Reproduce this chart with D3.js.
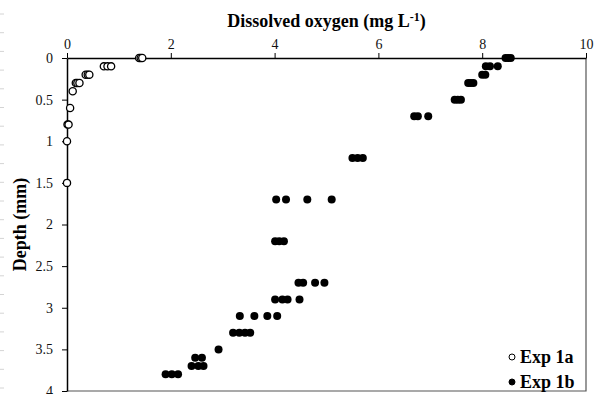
<!DOCTYPE html>
<html>
<head>
<meta charset="utf-8">
<script src="https://cdn.jsdelivr.net/npm/d3@7"></script>
<style>
  body { margin: 0; background: #fff; }
  svg { display: block; }
</style>
</head>
<body>
<script>
const width = 597, height = 394;
const margin = ({top: 58, right: 11, bottom: 3, left: 67});
const serif = '"Liberation Serif"';

// Exp 1a (open circles): depth in mm, dissolved oxygen in mg/L
const depth_1a  = [0, 0, 0, 0.1, 0.1, 0.1, 0.2, 0.2, 0.2, 0.3, 0.3, 0.3, 0.4, 0.6, 0.8, 0.8, 1.0, 1.5];
const oxygen_1a = [1.39, 1.42, 1.45, 0.71, 0.78, 0.85, 0.36, 0.40, 0.43, 0.17, 0.20, 0.24, 0.11, 0.06, 0.01, 0.03, 0, 0];

// Exp 1b (filled circles)
const depth_1b = [0, 0, 0, 0.1, 0.1, 0.1, 0.2, 0.2, 0.3, 0.3, 0.3, 0.5, 0.5, 0.5, 0.7, 0.7, 0.7,
  1.2, 1.2, 1.2, 1.7, 1.7, 1.7, 1.7, 2.2, 2.2, 2.2, 2.7, 2.7, 2.7, 2.7, 2.9, 2.9, 2.9, 2.9,
  3.1, 3.1, 3.1, 3.1, 3.3, 3.3, 3.3, 3.3, 3.5, 3.6, 3.6, 3.7, 3.7, 3.7, 3.8, 3.8, 3.8];
const oxygen_1b = [8.45, 8.5, 8.55, 8.07, 8.15, 8.30, 8.0, 8.06, 7.73, 7.78, 7.83, 7.47, 7.53, 7.59, 6.69, 6.76, 6.96,
  5.50, 5.60, 5.70, 4.03, 4.22, 4.63, 5.10, 4.01, 4.09, 4.18, 4.46, 4.55, 4.78, 4.96, 4.01, 4.15, 4.25, 4.48,
  3.33, 3.61, 3.86, 4.05, 3.20, 3.32, 3.43, 3.53, 2.92, 2.47, 2.60, 2.40, 2.53, 2.63, 1.90, 2.02, 2.14];

const x_ticks = [0, 2, 4, 6, 8, 10];
const y_ticks = [0, 0.5, 1, 1.5, 2, 2.5, 3, 3.5, 4];
const series_names = ["Exp 1a", "Exp 1b"];

const x = d3.scaleLinear([0, 10], [margin.left, width - margin.right]);
const y = d3.scaleLinear([0, 4], [margin.top, height - margin.bottom]);

const svg = d3.select("body").append("svg")
    .attr("width", width)
    .attr("height", height);

// faint marks along the left edge of the scan
svg.append("g")
    .selectAll("line")
    .data(d3.range(0, 21))
    .join("line")
    .attr("x1", 0).attr("x2", 4)
    .attr("y1", d => 14 + d * 18.7).attr("y2", d => 14 + d * 18.7)
    .attr("stroke", "#d4d4d4");

// plot frame (right and bottom)
svg.append("path")
    .attr("d", `M${x(10)},${y(0)}V${y(4)}H${x(0)}`)
    .attr("fill", "none")
    .attr("stroke", "#555")
    .attr("stroke-width", 1.2);

const x_axis = svg.append("g")
    .attr("transform", `translate(0,${y(0)})`)
    .call(d3.axisTop(x).tickValues(x_ticks).tickSize(5).tickSizeOuter(0).tickPadding(4))
x_axis.select(".domain").attr("stroke-width", 1.5);
x_axis.selectAll("text")
    .style("font-family", serif).style("font-size", "14px")
    .attr("fill", "#111");

const y_axis = svg.append("g")
    .attr("transform", `translate(${x(0)},0)`)
    .call(d3.axisLeft(y).tickValues(y_ticks).tickFormat(d3.format("")).tickSize(5).tickSizeOuter(0).tickPadding(9))
y_axis.select(".domain").attr("stroke-width", 1.5);
y_axis.selectAll("text")
    .style("font-family", serif).style("font-size", "14px")
    .attr("fill", "#111");

// titles
const title = svg.append("text")
    .attr("x", (x(0) + x(10)) / 2)
    .attr("y", 27)
    .attr("text-anchor", "middle")
    .style("font-family", serif)
    .style("font-weight", "bold")
    .style("font-size", "18px");
title.append("tspan").text("Dissolved oxygen (mg L");
title.append("tspan").attr("dy", -6).style("font-size", "12px").text("-1");
title.append("tspan").attr("dy", 6).text(")");

svg.append("text")
    .attr("transform", `translate(26,${(y(0) + y(4)) / 2}) rotate(-90)`)
    .attr("text-anchor", "middle")
    .style("font-family", serif)
    .style("font-weight", "bold")
    .style("font-size", "18px")
    .text("Depth (mm)");

// points
svg.append("g")
    .selectAll("circle")
    .data(d3.zip(depth_1b, oxygen_1b))
    .join("circle")
    .attr("cx", d => x(d[1]))
    .attr("cy", d => y(d[0]))
    .attr("r", 4)
    .attr("fill", "#000");

svg.append("g")
    .selectAll("circle")
    .data(d3.zip(depth_1a, oxygen_1a))
    .join("circle")
    .attr("cx", d => x(d[1]))
    .attr("cy", d => y(d[0]))
    .attr("r", 3.6)
    .attr("fill", "#fff")
    .attr("stroke", "#000")
    .attr("stroke-width", 1.3);

// legend
const legend = svg.append("g")
    .selectAll("g")
    .data(series_names)
    .join("g")
    .attr("transform", (d, i) => `translate(512,${357 + i * 25})`);
legend.append("circle")
    .attr("r", 3)
    .attr("fill", (d, i) => i ? "#000" : "#fff")
    .attr("stroke", "#000")
    .attr("stroke-width", 1);
legend.append("text")
    .attr("x", 8)
    .attr("dy", "0.35em")
    .style("font-family", serif)
    .style("font-weight", "bold")
    .style("font-size", "18px")
    .text(d => d);
</script>
</body>
</html>
